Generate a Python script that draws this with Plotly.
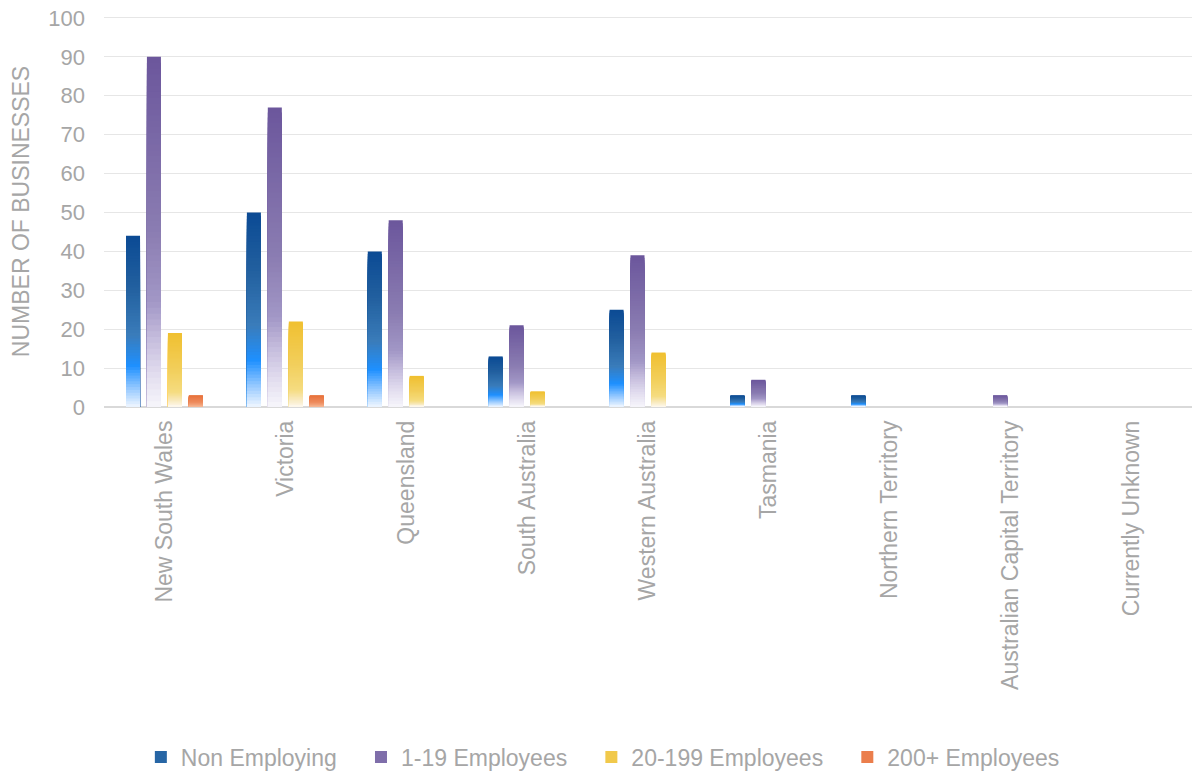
import plotly.graph_objects as go

categories = ["New South Wales", "Victoria", "Queensland", "South Australia",
              "Western Australia", "Tasmania", "Northern Territory",
              "Australian Capital Territory", "Currently Unknown"]
non_employing = [44, 50, 40, 13, 25, 3, 3, 0, 0]
emp_1_19 = [90, 77, 48, 21, 39, 7, 0, 3, 0]
emp_20_199 = [19, 22, 8, 4, 14, 0, 0, 0, 0]
emp_200_plus = [3, 3, 0, 0, 0, 0, 0, 0, 0]

series_names = ["Non Employing", "1-19 Employees", "20-199 Employees", "200+ Employees"]
series_values = [non_employing, emp_1_19, emp_20_199, emp_200_plus]

# gradient stops (t=0 at bar top, t=1 at bar base)
gradients = [
    [(0.0, "#0b4a94"), (0.3, "#22609f"), (0.58, "#3a7cba"), (0.76, "#1e90ff"), (0.88, "#8cc4ff"), (1.0, "#f0f7ff")],
    [(0.0, "#6b569c"), (0.5, "#8b7db2"), (0.7, "#a297c6"), (0.8, "#c4bbdc"), (0.9, "#e0dbee"), (1.0, "#f7f6fb")],
    [(0.0, "#f0c030"), (0.5, "#f2cf5c"), (0.8, "#f5dc80"), (0.9, "#f8e8b8"), (1.0, "#fdf8ee")],
    [(0.0, "#e8703a"), (0.6, "#ee8c5e"), (1.0, "#f5b490")],
]
legend_t = [0.35, 0.3, 0.3, 0.3]


def hex2rgb(h):
    h = h.lstrip("#")
    return tuple(int(h[i:i + 2], 16) for i in (0, 2, 4))


def color_at(stops, t):
    for (t0, c0), (t1, c1) in zip(stops[:-1], stops[1:]):
        if t0 <= t <= t1:
            f = 0 if t1 == t0 else (t - t0) / (t1 - t0)
            a, b = hex2rgb(c0), hex2rgb(c1)
            r = [round(a[k] + (b[k] - a[k]) * f) for k in range(3)]
            return "rgb(%d,%d,%d)" % tuple(r)
    return stops[-1][1]


N = 60
bar_w = 0.116
centers = [-0.26, -0.087, 0.087, 0.26]
gray = "#a6a6a6"
font_family = "Liberation Sans, Arial, sans-serif"
pad = "\u00a0" * 3

fig = go.Figure()
for s, (name, vals) in enumerate(zip(series_names, series_values)):
    leg_i = int(legend_t[s] * N)
    for i in range(N):
        frac = 1 - i / N
        t = (i + 0.5) / N
        fig.add_trace(go.Bar(
            x=categories,
            y=[v * frac for v in vals],
            name=name + (pad if s < len(series_names) - 1 else ""),
            showlegend=(i == leg_i),
            marker=dict(color=color_at(gradients[s], t), line=dict(width=0)),
            opacity=1,
            width=bar_w,
            offset=centers[s] - bar_w / 2,
            hoverinfo="skip",
        ))

fig.update_layout(
    template="none",
    barmode="overlay",
    width=1192, height=771,
    margin=dict(l=104, r=0, t=16, b=364, autoexpand=False),
    plot_bgcolor="white", paper_bgcolor="white",
    font=dict(family=font_family, size=23, color=gray),
    showlegend=True,
    legend=dict(orientation="h", x=0.4585, xanchor="center", y=-0.895, yanchor="middle",
                font=dict(size=23, color=gray), traceorder="normal", itemwidth=30),
    xaxis=dict(
        tickangle=-90, tickfont=dict(size=23, color=gray), automargin=False,
        showgrid=False, showline=False, ticks="", ticklabelstandoff=8,
        range=[-0.5, 8.5],
    ),
    yaxis=dict(
        range=[0, 100.5], tickvals=list(range(0, 101, 10)), automargin=False,
        tickfont=dict(size=22, color=gray), ticklabeloverflow="allow",
        showgrid=True, gridcolor="#e6e6e6", gridwidth=1.3,
        zeroline=True, zerolinecolor="#d9d9d9", zerolinewidth=1.5,
        showline=False, ticks="", ticklabelstandoff=18,
        title=dict(text="NUMBER OF BUSINESSES", font=dict(size=23, color=gray), standoff=12),
    ),
)

fig.write_html("out.html", config={"displayModeBar": False},
               post_script="document.body.style.margin='0';")
